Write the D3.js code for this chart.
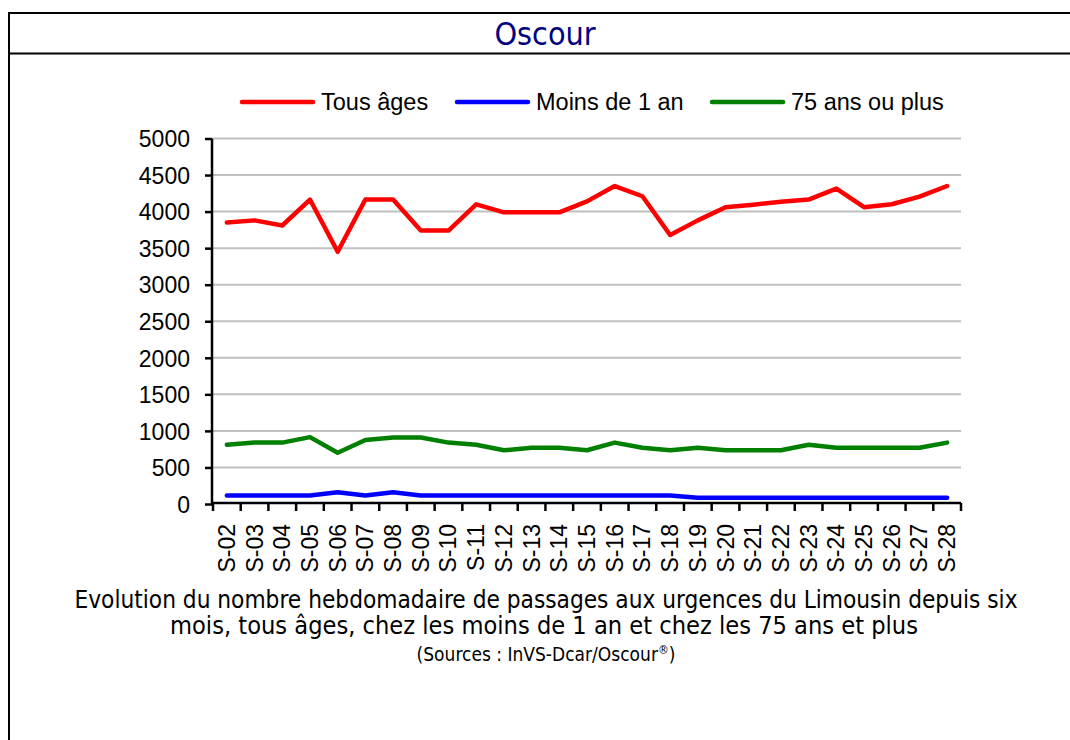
<!DOCTYPE html>
<html>
<head>
<meta charset="utf-8">
<script src="https://cdn.jsdelivr.net/npm/d3@7"></script>
<style>
html,body{margin:0;padding:0;background:#fff;}
svg{display:block;}
</style>
</head>
<body>
<svg id="chart" width="1070" height="740"></svg>
<script>
const weeks = ["S-02","S-03","S-04","S-05","S-06","S-07","S-08","S-09","S-10","S-11","S-12","S-13","S-14","S-15","S-16","S-17","S-18","S-19","S-20","S-21","S-22","S-23","S-24","S-25","S-26","S-27","S-28"];
const tousAges = [3850,3880,3810,4165,3450,4165,4165,3740,3740,4100,3990,3990,3990,4140,4350,4210,3680,3880,4060,4095,4135,4165,4315,4060,4100,4205,4350];
const moins1an = [115,115,115,115,160,115,160,115,115,115,115,115,115,115,115,115,115,85,85,85,85,85,85,85,85,85,85];
const plus75 = [810,840,840,915,700,875,910,910,840,810,735,770,770,735,840,770,735,770,735,735,735,810,770,770,770,770,840];
const yTicks = [0,500,1000,1500,2000,2500,3000,3500,4000,4500,5000];
const seriesNames = ["Tous âges","Moins de 1 an","75 ans ou plus"];
const seriesColors = ["#ff0000","#0000ff","#008000"];
const titleText = "Oscour";
const captionLines = ["Evolution du nombre hebdomadaire de passages aux urgences du Limousin depuis six","mois, tous âges, chez les moins de 1 an et chez les 75 ans et plus"];
const sourceText = "(Sources : InVS-Dcar/Oscour";

const svg = d3.select("#chart");
const FONT = "'Liberation Sans', Arial, sans-serif";
const CFONT = "'DejaVu Sans Condensed', 'DejaVu Sans', sans-serif";

// frame
svg.append("line").attr("x1",9).attr("x2",1070).attr("y1",13).attr("y2",13).attr("stroke","#000").attr("stroke-width",2);
svg.append("line").attr("x1",9).attr("x2",1070).attr("y1",53.5).attr("y2",53.5).attr("stroke","#000").attr("stroke-width",2);
svg.append("line").attr("x1",9).attr("x2",9).attr("y1",12).attr("y2",740).attr("stroke","#000").attr("stroke-width",2);

svg.append("text").attr("x",545).attr("y",45).attr("text-anchor","middle")
  .attr("font-family",CFONT).attr("font-size",32).attr("fill","#000080").text(titleText);

const x = d3.scaleBand().domain(weeks).range([213,961]).padding(0);
const y = d3.scaleLinear().domain([0,5000]).range([504,138.5]);
const cx = d => x(d) + x.bandwidth()/2;

// gridlines
svg.append("g").selectAll("line").data(yTicks.filter(v=>v>0)).join("line")
  .attr("x1",213).attr("x2",961).attr("y1",d=>y(d)).attr("y2",d=>y(d))
  .attr("stroke","#c0c0c0").attr("stroke-width",2);

// y axis
const yAxis = d3.axisLeft(y).tickValues(yTicks).tickSize(7).tickPadding(15).tickFormat(d3.format("d"));
const gy = svg.append("g").attr("transform","translate(212,0)").call(yAxis);
gy.select(".domain").attr("stroke","#000").attr("stroke-width",2.5).attr("d","M0,"+y(5000)+"V"+y(0));
gy.selectAll(".tick line").attr("stroke","#000").attr("stroke-width",2.5);
gy.selectAll(".tick text").attr("font-family",FONT).attr("font-size",23).attr("fill","#000").attr("dy","0.36em");

// x axis
const gx = svg.append("g");
gx.append("line").attr("x1",211).attr("x2",961).attr("y1",y(0)-1).attr("y2",y(0)-1).attr("stroke","#000").attr("stroke-width",2.5);
const bounds = weeks.map(d=>x(d)).concat([x(weeks[weeks.length-1])+x.bandwidth()]);
gx.selectAll("line.t").data(bounds).join("line").attr("class","t")
  .attr("x1",d=>d).attr("x2",d=>d).attr("y1",y(0)-1).attr("y2",y(0)+7)
  .attr("stroke","#000").attr("stroke-width",2.5);
gx.selectAll("text").data(weeks).join("text")
  .attr("transform",d=>`translate(${cx(d)+8},${y(0)+20}) rotate(-90)`)
  .attr("text-anchor","end").attr("font-family",FONT).attr("font-size",23).attr("fill","#000").text(d=>d);

// lines
const line = d3.line().x((v,i)=>cx(weeks[i])).y(v=>y(v));
[moins1an, plus75, tousAges].forEach((arr,k)=>{
  const idx = [1,2,0][k];
  svg.append("path").datum(arr).attr("d",line).attr("fill","none")
    .attr("stroke",seriesColors[idx]).attr("stroke-width",4.5)
    .attr("stroke-linejoin","round").attr("stroke-linecap","round");
});

// legend
const legX = [242,457,712];
const lg = svg.append("g");
seriesNames.forEach((n,i)=>{
  lg.append("line").attr("x1",legX[i]).attr("x2",legX[i]+71).attr("y1",102).attr("y2",102)
    .attr("stroke",seriesColors[i]).attr("stroke-width",4.5).attr("stroke-linecap","round");
  lg.append("text").attr("x",legX[i]+79).attr("y",110).attr("font-family",FONT).attr("font-size",23.5).attr("fill","#000").text(n);
});

// caption
svg.append("text").attr("x",546).attr("y",608).attr("text-anchor","middle").attr("font-family",CFONT).attr("font-size",24)
  .attr("textLength",943).attr("lengthAdjust","spacingAndGlyphs").attr("fill","#000").text(captionLines[0]);
svg.append("text").attr("x",544).attr("y",634).attr("text-anchor","middle").attr("font-family",CFONT).attr("font-size",24)
  .attr("textLength",748).attr("lengthAdjust","spacingAndGlyphs").attr("fill","#000").text(captionLines[1]);
const src = svg.append("text").attr("x",546).attr("y",661).attr("text-anchor","middle").attr("font-family",CFONT).attr("font-size",19).attr("fill","#000");
src.append("tspan").text(sourceText);
src.append("tspan").attr("font-size",12).attr("dy",-7).text("®");
src.append("tspan").attr("dy",7).text(")");
</script>
</body>
</html>
